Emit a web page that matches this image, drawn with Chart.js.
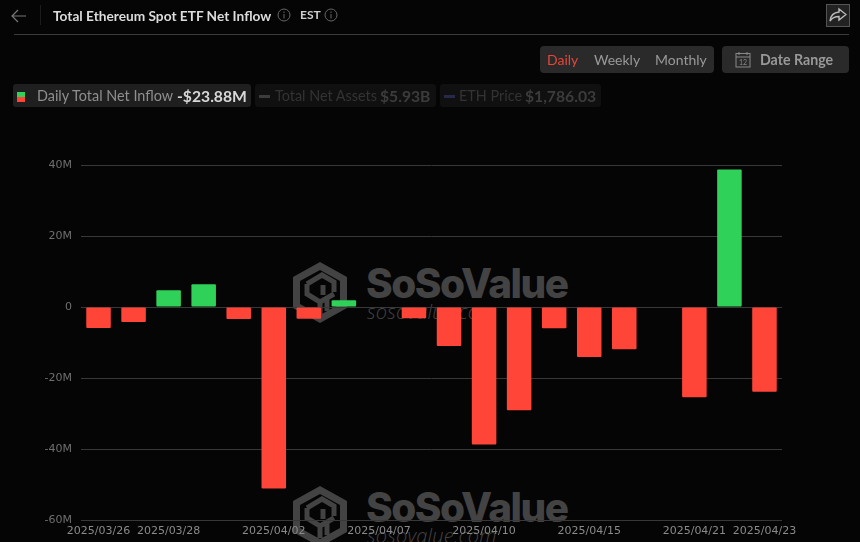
<!DOCTYPE html>
<html>
<head>
<meta charset="utf-8">
<title>Total Ethereum Spot ETF Net Inflow</title>
<script src="https://cdn.jsdelivr.net/npm/chart.js@4/dist/chart.umd.min.js"></script>
<style>
  html, body { margin: 0; padding: 0; background: #050505; }
  #page { position: relative; width: 860px; height: 542px; overflow: hidden; font-family: Lato, sans-serif; }
  #page > * { position: absolute; }
  canvas { left: 0; top: 0; }
  .t { white-space: nowrap; line-height: 20px; }
  .box { background: #2a2a2a; border-radius: 4px; }
  .wm { color: #434343; white-space: nowrap; }
  .wm1 { font: 800 40.5px Inter, sans-serif; letter-spacing: -1.5px; line-height: 44px; }
  .wm2 { font: italic 300 20px "Open Sans", sans-serif; line-height: 26px; letter-spacing: .2px; }
</style>
</head>
<body>
<div id="page">
  <!-- watermarks sit under the canvas so bars and gridlines draw over them -->
  <svg style="left:293px;top:262px" width="55" height="62" viewBox="0 0 55 62"><use href="#logo"/></svg>
  <svg style="left:293px;top:486px" width="55" height="62" viewBox="0 0 55 62"><use href="#logo"/></svg>
  <div class="wm wm1" style="left:366px;top:262px">SoSoValue</div>
  <div class="wm wm2" style="left:367px;top:299px">sosovalue.com</div>
  <div class="wm wm1" style="left:366px;top:486px">SoSoValue</div>
  <div class="wm wm2" style="left:367px;top:523px">sosovalue.com</div>

  <svg width="0" height="0" style="left:0;top:0">
    <defs>
      <g id="logo">
        <path fill="#434343" fill-rule="evenodd" d="M27 0 L54 15 L54 46 L27 61 L0 46 L0 15 Z M27 8 L7 19 L7 42 L27 53 L47 42 L47 19 Z"/>
        <path fill="none" stroke="#434343" stroke-width="5" d="M14 22 L29 13 L41 20 L41 30 M30 33 L30 23 M14 22 L14 32 L27 40 L27 52 M27 40 L41 32 M34 37 L34 49"/>
      </g>
    </defs>
  </svg>

  <canvas id="graph1" width="860" height="542"></canvas>

  <!-- header -->
  <svg style="left:11px;top:8px" width="16" height="16" viewBox="0 0 16 16"><path d="M15 8 H1 M7 2 L1 8 L7 14" fill="none" stroke="#777" stroke-width="1.2"/></svg>
  <div style="left:40px;top:5px;width:1px;height:20px;background:#1c1c1c"></div>
  <div class="t" style="left:53px;top:6px;font-size:13.7px;font-weight:700;color:#dcdcdc">Total Ethereum Spot ETF Net Inflow</div>
  <svg style="left:277px;top:8px" width="14" height="14" viewBox="0 0 14 14"><circle cx="7" cy="7" r="6" fill="none" stroke="#666"/><path d="M7 6 V10.5 M7 3.5 V5" stroke="#666"/></svg>
  <div class="t" style="left:300px;top:5px;font-size:12px;font-weight:700;color:#cfcfcf">EST</div>
  <svg style="left:324px;top:8px" width="14" height="14" viewBox="0 0 14 14"><circle cx="7" cy="7" r="6" fill="none" stroke="#666"/><path d="M7 6 V10.5 M7 3.5 V5" stroke="#666"/></svg>
  <div style="left:14px;top:33.5px;width:835px;height:1px;background:#3a3a3a"></div>
  <div style="left:826px;top:4px;width:22px;height:21px;border:1px solid #555;background:#222"></div>
  <svg style="left:829px;top:6px" width="18" height="18" viewBox="0 0 18 18"><path d="M10 3 L17 8.5 L10 14 V10.5 C6 10.5 3 12 1 15 C1.5 10 5 6.5 10 6 Z" fill="none" stroke="#bbb" stroke-width="1.4"/></svg>

  <!-- period buttons -->
  <div class="box" style="left:540px;top:46px;width:174px;height:27px"></div>
  <div class="t" style="left:547px;top:50px;font-size:14px;color:#e5463a">Daily</div>
  <div class="t" style="left:594px;top:50px;font-size:14px;color:#999">Weekly</div>
  <div class="t" style="left:655px;top:50px;font-size:14px;color:#999">Monthly</div>
  <div class="box" style="left:722px;top:46px;width:127px;height:27px"></div>
  <svg style="left:735px;top:51px" width="16" height="17" viewBox="0 0 16 17"><rect x="1" y="2.5" width="14" height="13.5" fill="none" stroke="#888"/><path d="M1 6 H15 M4 1 V4 M12 1 V4" stroke="#888"/><text x="8" y="14" font-size="7" fill="#888" text-anchor="middle" font-family="Lato">12</text></svg>
  <div class="t" style="left:760px;top:50px;font-size:14.2px;font-weight:700;color:#999">Date Range</div>

  <!-- legend chips -->
  <div style="left:13px;top:84px;width:238px;height:23px;background:#1f1f1f;border-radius:3px"></div>
  <div style="left:17px;top:92px;width:8px;height:5px;background:#30d158"></div>
  <div style="left:17px;top:97px;width:8px;height:5px;background:#ff4438"></div>
  <div class="t" style="left:37px;top:86px;font-size:14.4px;color:#8f8f8f">Daily Total Net Inflow</div>
  <div class="t" style="left:177px;top:86px;font-size:15.7px;font-weight:700;color:#d8d8d8">-$23.88M</div>
  <div style="left:255px;top:84px;width:181px;height:23px;background:#101010;border-radius:3px"></div>
  <div style="left:259px;top:95px;width:11px;height:3px;background:#3c3c3c"></div>
  <div class="t" style="left:275px;top:86px;font-size:14.4px;color:#333">Total Net Assets</div>
  <div class="t" style="left:380px;top:86px;font-size:15.7px;font-weight:700;color:#3c3c3c">$5.93B</div>
  <div style="left:440px;top:84px;width:161px;height:23px;background:#101010;border-radius:3px"></div>
  <div style="left:444px;top:95px;width:11px;height:3px;background:#26294a"></div>
  <div class="t" style="left:459px;top:86px;font-size:14.4px;color:#333">ETH Price</div>
  <div class="t" style="left:525px;top:86px;font-size:15.7px;font-weight:700;color:#3c3c3c">$1,786.03</div>
</div>

<script>
var dates = ["2025/03/26", "2025/03/27", "2025/03/28", "2025/03/31", "2025/04/01", "2025/04/02", "2025/04/03",
  "2025/04/04", "2025/04/07", "2025/04/08", "2025/04/09", "2025/04/10", "2025/04/11", "2025/04/14",
  "2025/04/15", "2025/04/16", "2025/04/17", "2025/04/21", "2025/04/22", "2025/04/23"];
// net inflow in $M, null where no bar is drawn
var netInflow = [-5.9, -4.2, 4.7, 6.4, -3.4, -51.1, -3.3, 1.9, null, -3.2, -11, -38.7, -29.1, -6, -14.1, -11.9, null, -25.4, 38.7, -23.88];
var xTickLabels = ["2025/03/26", "2025/03/28", "2025/04/02", "2025/04/07", "2025/04/10", "2025/04/15", "2025/04/21", "2025/04/23"];
var yTicks = [40, 20, 0, -20, -40, -60];

var ctx = document.getElementById('graph1').getContext('2d');
var chart = new Chart(ctx, {
    type: 'bar',
    data: {
        labels: dates,
        datasets: [{
            label: "Daily Total Net Inflow",
            data: netInflow,
            backgroundColor: function (c) { return c.raw >= 0 ? "#30d158" : "#ff4438"; },
            borderRadius: 1,
            borderSkipped: false,
            categoryPercentage: 1,
            barPercentage: 0.7
        }]
    },
    options: {
      responsive: false,
      animation: false,
      layout: { padding: { top: 165, left: 0, right: 78, bottom: 0 } },
      plugins: { legend: { display: false }, tooltip: { enabled: false } },
      scales: {
        x: {
          grid: { display: false, drawTicks: false },
          border: { display: false },
          afterFit: function (s) { s.height = 22; },
          ticks: {
            autoSkip: false, maxRotation: 0, padding: 5,
            color: "#8a8a8a",
            font: { family: "'DejaVu Sans'", size: 11 },
            callback: function (v) {
              var d = this.getLabelForValue(v);
              return xTickLabels.indexOf(d) >= 0 ? d : "";
            }
          }
        },
        y: {
          min: -60, max: 40,
          afterFit: function (s) { s.width = 81; },
          afterBuildTicks: function (s) { s.ticks = yTicks.map(function (v) { return { value: v }; }); },
          grid: { color: "#383838", lineWidth: 1, drawTicks: false },
          border: { display: false },
          ticks: {
            padding: 9,
            color: "#6f6f6f",
            font: { family: "'DejaVu Sans'", size: 11 },
            callback: function (v) { return v === 0 ? "0" : v + "M"; }
          }
        }
      }
    }
});
</script>
</body>
</html>
